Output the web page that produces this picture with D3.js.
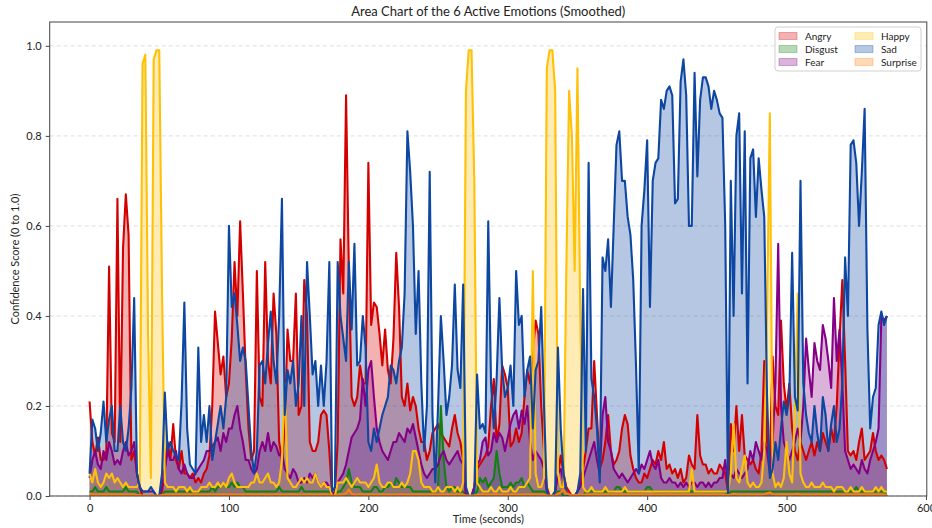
<!DOCTYPE html>
<html>
<head>
<meta charset="utf-8">
<script src="https://cdn.jsdelivr.net/npm/d3@7/dist/d3.min.js"></script>
<style>
  body { margin: 0; background: #fff; }
  svg text { font-family: Lato, "Open Sans", sans-serif; fill: #222; }
</style>
</head>
<body>
<svg id="chart" width="932" height="528"></svg>
<script>
// confidence scores in percent, one value every 2 seconds (t = 0 .. 572)
const STEP = 2;

const angry = [
  21,12,9,13,8,8,10,51,14,12,
  66,12,55,67,58,8,10,5,2,0,
  0,0,0,0,0,0,1,6,12,8,
  16,8,6,10,5,5,4,5,3,4,
  3,5,6,9,20,41,34,27,31,22,
  25,35,52,40,61,45,28,15,8,10,
  50,22,20,52,30,25,45,36,12,8,
  15,37,30,30,45,18,20,48,40,12,
  10,10,12,18,19,18,10,0,1,12,
  57,45,89,50,22,20,22,29,25,25,
  74,38,43,42,36,29,37,28,25,35,
  54,42,22,20,25,19,22,20,15,12,
  12,8,10,14,15,16,14,13,12,11,
  15,18,14,12,8,0,0,0,2,6,
  7,8,9,11,20,26,12,16,29,27,
  24,11,12,15,12,14,22,28,25,32,
  39,36,20,10,2,0,0,1,5,9,
  5,2,1,0,0,1,3,6,10,15,
  15,30,18,6,8,12,18,10,7,8,
  10,15,18,16,9,6,4,3,3,5,
  4,6,8,7,10,8,12,6,7,5,
  6,4,6,3,4,9,7,6,18,9,
  7,7,5,6,5,5,7,6,5,1,
  16,10,20,10,18,9,8,7,8,6,
  5,10,30,12,8,31,20,18,39,25,
  19,25,15,10,8,12,10,8,10,12,
  9,12,10,14,12,10,15,12,20,35,
  48,30,10,9,10,8,12,15,8,9,
  10,14,10,8,9,8,6
];

const disgust = [
  1,1,2,1,1,1,2,1,1,1,
  1,1,1,2,1,1,1,1,0,0,
  0,0,0,0,0,0,0,1,1,1,
  1,1,1,1,1,1,1,1,1,1,
  1,1,1,1,2,1,2,2,3,2,
  2,3,2,3,2,2,1,1,1,1,
  1,1,1,1,1,1,1,1,2,1,
  1,1,1,1,1,1,2,1,1,1,
  1,1,1,1,1,1,1,0,0,1,
  1,2,3,6,3,2,2,2,1,1,
  1,1,2,2,1,1,2,2,3,2,
  4,3,2,2,2,2,1,1,1,1,
  1,1,1,1,1,2,20,8,2,1,
  2,2,1,1,1,0,0,0,0,1,
  4,3,4,2,3,4,10,5,2,2,
  2,3,2,3,3,4,2,3,2,1,
  1,1,1,1,0,0,0,0,1,1,
  0,0,0,0,0,0,0,0,1,1,
  1,1,1,1,1,1,1,1,1,2,
  2,1,1,1,1,1,1,1,1,1,
  2,2,1,1,1,1,1,1,1,1,
  1,1,1,1,1,1,1,1,1,1,
  1,1,1,1,1,1,1,1,1,0,
  1,1,1,1,1,1,1,1,1,1,
  1,1,1,1,1,1,1,1,1,1,
  1,1,1,1,1,1,1,1,1,1,
  1,1,1,1,1,1,1,1,1,1,
  1,1,1,1,1,2,1,1,1,1,
  1,1,1,1,1,1,0
];

const fear = [
  4,8,10,7,6,10,8,12,10,7,
  8,7,10,12,9,10,12,5,2,1,
  1,1,1,1,0,0,2,6,10,8,
  8,10,6,5,7,5,4,4,5,6,
  7,8,10,10,11,12,13,10,14,12,
  15,15,18,20,15,12,8,8,6,5,
  6,10,12,10,14,10,12,11,9,10,
  6,5,4,6,5,3,3,4,3,5,
  4,5,3,2,3,3,2,0,1,3,
  4,5,7,10,13,14,15,17,26,20,
  28,30,22,15,12,10,9,8,10,12,
  12,14,13,12,15,14,16,13,10,7,
  5,4,5,6,6,7,9,10,8,7,
  8,9,10,8,7,0,0,0,2,7,
  8,12,13,9,10,14,12,14,13,10,
  13,16,18,19,15,19,16,20,12,8,
  10,9,8,6,1,0,0,1,5,6,
  3,1,0,0,0,1,2,4,6,8,
  10,12,8,5,18,22,12,10,6,5,
  4,5,4,3,4,5,6,5,7,6,
  8,10,7,6,8,4,3,3,4,3,
  3,2,3,2,3,2,3,3,2,3,
  3,2,3,2,3,3,4,4,8,2,
  5,4,6,5,4,5,6,10,8,12,
  10,8,12,10,5,12,25,56,20,12,
  10,8,10,12,15,12,20,35,28,22,
  34,30,28,38,35,30,24,44,30,37,
  25,10,8,6,7,6,5,8,6,5,
  8,10,12,15,40,39,40
];

const happy = [
  5,3,6,3,2,3,5,4,5,3,
  4,3,2,3,2,2,2,2,3,96,
  98,35,4,97,99,99,45,3,2,2,
  2,1,2,2,2,1,2,1,1,1,
  2,2,2,3,2,2,3,2,3,2,
  4,5,3,2,2,2,2,2,3,3,
  5,3,3,4,5,3,3,2,3,8,
  25,4,3,2,2,3,4,3,4,3,
  3,5,3,2,3,2,2,0,0,3,
  3,3,4,3,2,3,4,3,3,3,
  2,3,4,7,3,2,2,3,3,2,
  2,2,3,2,3,5,10,10,8,3,
  2,2,2,1,1,2,1,1,2,2,
  2,1,2,1,3,90,99,99,70,3,
  2,1,1,1,2,1,1,2,1,1,
  1,2,1,1,2,2,2,3,4,50,
  5,2,2,4,95,99,99,90,5,2,
  2,50,90,80,50,95,40,2,1,1,
  2,1,1,1,1,2,1,1,1,1,
  1,1,2,1,1,1,1,1,1,1,
  1,1,1,1,1,1,1,1,1,1,
  1,1,1,1,1,1,6,1,1,1,
  1,1,1,1,1,1,1,1,1,1,
  5,16,4,3,6,9,3,2,3,2,
  2,3,10,40,85,5,2,3,2,4,
  12,5,3,20,45,5,3,2,2,3,
  2,2,2,3,2,2,2,1,2,2,
  2,1,1,2,1,1,1,2,1,1,
  1,1,2,1,2,1,1
];

const sad = [
  5,17,15,10,14,21,12,17,20,10,
  10,20,12,10,15,24,44,5,2,1,
  1,1,2,1,0,0,5,23,10,12,
  10,9,8,21,43,15,7,6,5,33,
  12,18,12,20,8,12,16,20,15,22,
  60,42,45,38,30,33,30,20,10,5,
  10,29,30,25,34,41,30,25,40,66,
  18,28,25,30,20,25,40,20,52,40,
  27,30,20,29,20,30,52,1,2,52,
  40,35,30,52,37,56,29,30,40,33,
  12,10,15,12,15,18,20,22,29,28,
  25,30,33,45,81,72,60,36,50,25,
  10,20,72,18,3,20,40,30,18,22,
  29,47,28,24,47,2,0,0,1,27,
  15,16,14,61,25,15,26,44,28,22,
  24,29,20,50,38,40,22,28,31,15,
  28,30,42,20,1,0,0,1,33,15,
  5,1,0,0,0,1,5,46,10,74,
  26,22,15,3,53,50,57,42,60,78,
  81,70,70,62,58,48,29,5,60,68,
  79,42,70,74,75,88,86,90,91,89,
  65,66,92,97,89,60,60,94,71,88,
  93,93,91,86,90,88,85,84,60,0,
  70,40,80,85,45,81,25,75,77,62,
  75,68,62,22,4,6,12,8,15,21,
  18,22,54,22,19,70,25,18,14,12,
  20,14,10,22,18,10,16,20,12,15,
  25,53,40,78,79,74,60,72,86,37,
  15,22,24,38,41,38,40
];

const surprise = [
  0.5,0.4,0.3,0.3,0.4,0.3,0.3,0.4,0.3,0.3,
  0.3,0.4,0.3,0.3,0.3,0.4,0.3,0.2,0.2,0.1,
  0.1,0.1,0.1,0.1,0.1,0.1,0.2,0.3,0.3,0.3,
  0.3,0.3,0.4,0.3,0.3,0.3,0.3,0.3,0.4,0.3,
  0.3,0.3,0.3,0.4,0.3,0.3,0.3,0.3,0.4,0.3,
  0.3,0.4,0.3,0.3,0.3,0.3,0.3,0.4,0.3,0.3,
  0.3,0.3,0.4,0.3,0.3,0.3,0.3,0.4,0.3,0.3,
  0.3,0.3,0.3,0.4,0.3,0.3,0.3,0.3,0.3,0.4,
  0.3,0.3,0.3,0.3,0.4,0.3,0.3,0.1,0.1,0.3,
  0.3,0.4,0.6,1.5,0.5,0.3,0.3,0.4,0.3,0.3,
  0.3,0.4,0.3,0.3,0.3,0.4,0.3,0.3,0.3,0.3,
  0.3,0.3,0.4,0.3,0.3,0.3,0.3,0.4,0.3,0.3,
  0.3,0.3,0.3,0.4,0.3,0.3,0.3,0.3,0.4,0.3,
  0.3,0.3,0.4,0.3,0.3,0.1,0.1,0.1,0.1,0.3,
  0.3,0.4,0.3,0.3,0.3,0.3,0.4,0.3,0.3,0.3,
  0.3,0.3,0.4,0.3,0.3,0.3,0.3,0.4,0.3,0.3,
  0.3,0.3,0.3,0.4,0.1,0.1,0.1,0.1,0.5,0.8,
  1.5,0.6,0.3,0.2,0.2,0.2,0.3,0.3,0.3,0.3,
  0.3,0.4,0.3,0.3,0.3,0.3,0.4,0.3,0.3,0.3,
  0.3,0.3,0.3,0.4,0.3,0.3,0.3,0.3,0.4,0.3,
  0.3,0.3,0.4,0.3,0.3,0.3,0.3,0.3,0.4,0.3,
  0.3,0.3,0.3,0.4,0.3,0.3,0.3,0.3,0.3,0.4,
  0.3,0.3,0.3,0.3,0.4,0.3,0.3,0.3,0.3,0.2,
  0.3,0.5,0.4,0.3,0.3,0.3,0.4,0.3,0.3,0.3,
  0.3,0.3,0.4,0.6,0.8,0.4,0.3,0.3,0.3,0.4,
  0.3,0.3,0.3,0.4,0.5,0.3,0.3,0.3,0.3,0.3,
  0.3,0.4,0.3,0.3,0.3,0.3,0.4,0.3,0.3,0.3,
  0.3,0.3,0.4,0.3,0.3,0.3,0.3,0.4,0.3,0.3,
  0.3,0.3,0.4,0.3,0.3,0.3,0.3
];

const emotions = ["Angry", "Disgust", "Fear", "Happy", "Sad", "Surprise"];
const colors = ["#d40000", "#138013", "#860086", "#ffc107", "#0d47a1", "#ff7f0e"];
const values = [angry, disgust, fear, happy, sad, surprise];

const yTicks = [0, 0.2, 0.4, 0.6, 0.8, 1.0];
const xTicks = [0, 100, 200, 300, 400, 500, 600];

const plot = { left: 49.7, right: 926.8, top: 22, bottom: 496 };

const svg = d3.select("#chart");

const x = d3.scaleLinear().domain([-28.6, 600.6]).range([plot.left, plot.right]);
const y = d3.scaleLinear().domain([0, 1.053]).range([plot.bottom, plot.top]);

// grid
svg.append("g")
  .selectAll("line")
  .data(yTicks)
  .join("line")
  .attr("x1", plot.left).attr("x2", plot.right)
  .attr("y1", d => y(d)).attr("y2", d => y(d))
  .attr("stroke", "#d6d6d6")
  .attr("stroke-width", 0.8)
  .attr("stroke-dasharray", "4,3");

svg.append("clipPath").attr("id", "clip")
  .append("rect")
  .attr("x", plot.left).attr("y", plot.top)
  .attr("width", plot.right - plot.left).attr("height", plot.bottom - plot.top);

const series = emotions.map((name, k) => ({
  name,
  color: colors[k],
  points: values[k].map((v, i) => ({ t: i * STEP, v: v / 100 }))
}));

const area = d3.area()
  .x(d => x(d.t))
  .y0(y(0))
  .y1(d => y(d.v));

const line = d3.line()
  .x(d => x(d.t))
  .y(d => y(d.v));

const marks = svg.append("g").attr("clip-path", "url(#clip)");

// all the fills first, the lines on top of them
marks.append("g")
  .selectAll("path")
  .data(series)
  .join("path")
  .attr("d", d => area(d.points))
  .attr("fill", d => d.color)
  .attr("fill-opacity", 0.3);

marks.append("g")
  .selectAll("path")
  .data(series)
  .join("path")
  .attr("d", d => line(d.points))
  .attr("fill", "none")
  .attr("stroke", d => d.color)
  .attr("stroke-width", 2.1)
  .attr("stroke-linejoin", "round");

// frame
svg.append("rect")
  .attr("x", plot.left).attr("y", plot.top)
  .attr("width", plot.right - plot.left).attr("height", plot.bottom - plot.top)
  .attr("fill", "none")
  .attr("stroke", "#444")
  .attr("stroke-width", 1);

// axes
const yAxis = svg.append("g")
  .attr("transform", `translate(${plot.left},0)`)
  .call(d3.axisLeft(y).tickValues(yTicks).tickFormat(d3.format(".1f")).tickSize(4).tickPadding(4))
  .call(g => g.select(".domain").remove());

const xAxis = svg.append("g")
  .attr("transform", `translate(0,${plot.bottom})`)
  .call(d3.axisBottom(x).tickValues(xTicks).tickFormat(d3.format("d")).tickSize(4).tickPadding(4))
  .call(g => g.select(".domain").remove());

[yAxis, xAxis].forEach(g => {
  g.selectAll(".tick line").attr("stroke", "#444");
  g.selectAll(".tick text")
    .style("font-family", "Lato, sans-serif")
    .style("font-size", "11px")
    .attr("fill", "#222");
});

// titles
svg.append("text")
  .attr("x", (plot.left + plot.right) / 2)
  .attr("y", 16)
  .attr("text-anchor", "middle")
  .style("font-size", "13px")
  .text("Area Chart of the 6 Active Emotions (Smoothed)");

svg.append("text")
  .attr("x", (plot.left + plot.right) / 2)
  .attr("y", 523)
  .attr("text-anchor", "middle")
  .style("font-size", "11px")
  .text("Time (seconds)");

svg.append("text")
  .attr("transform", `translate(19,${(plot.top + plot.bottom) / 2}) rotate(-90)`)
  .attr("text-anchor", "middle")
  .style("font-size", "11px")
  .text("Confidence Score (0 to 1.0)");

// legend
const legend = svg.append("g").attr("transform", "translate(775,27)");
legend.append("rect")
  .attr("width", 146).attr("height", 44)
  .attr("rx", 3)
  .attr("fill", "#fff").attr("fill-opacity", 0.85)
  .attr("stroke", "#d0d0d0");

const item = legend.selectAll("g.item")
  .data(series)
  .join("g")
  .attr("class", "item")
  .attr("transform", (d, i) => `translate(${i < 3 ? 4 : 80},${9 + (i % 3) * 13})`);

item.append("rect")
  .attr("x", 0).attr("y", -3.5)
  .attr("width", 18).attr("height", 7)
  .attr("fill", d => d.color)
  .attr("fill-opacity", 0.3)
  .attr("stroke", d => d.color)
  .attr("stroke-opacity", 0.3);

item.append("text")
  .attr("x", 26)
  .attr("y", 3.5)
  .style("font-size", "10px")
  .text(d => d.name);
</script>
</body>
</html>
